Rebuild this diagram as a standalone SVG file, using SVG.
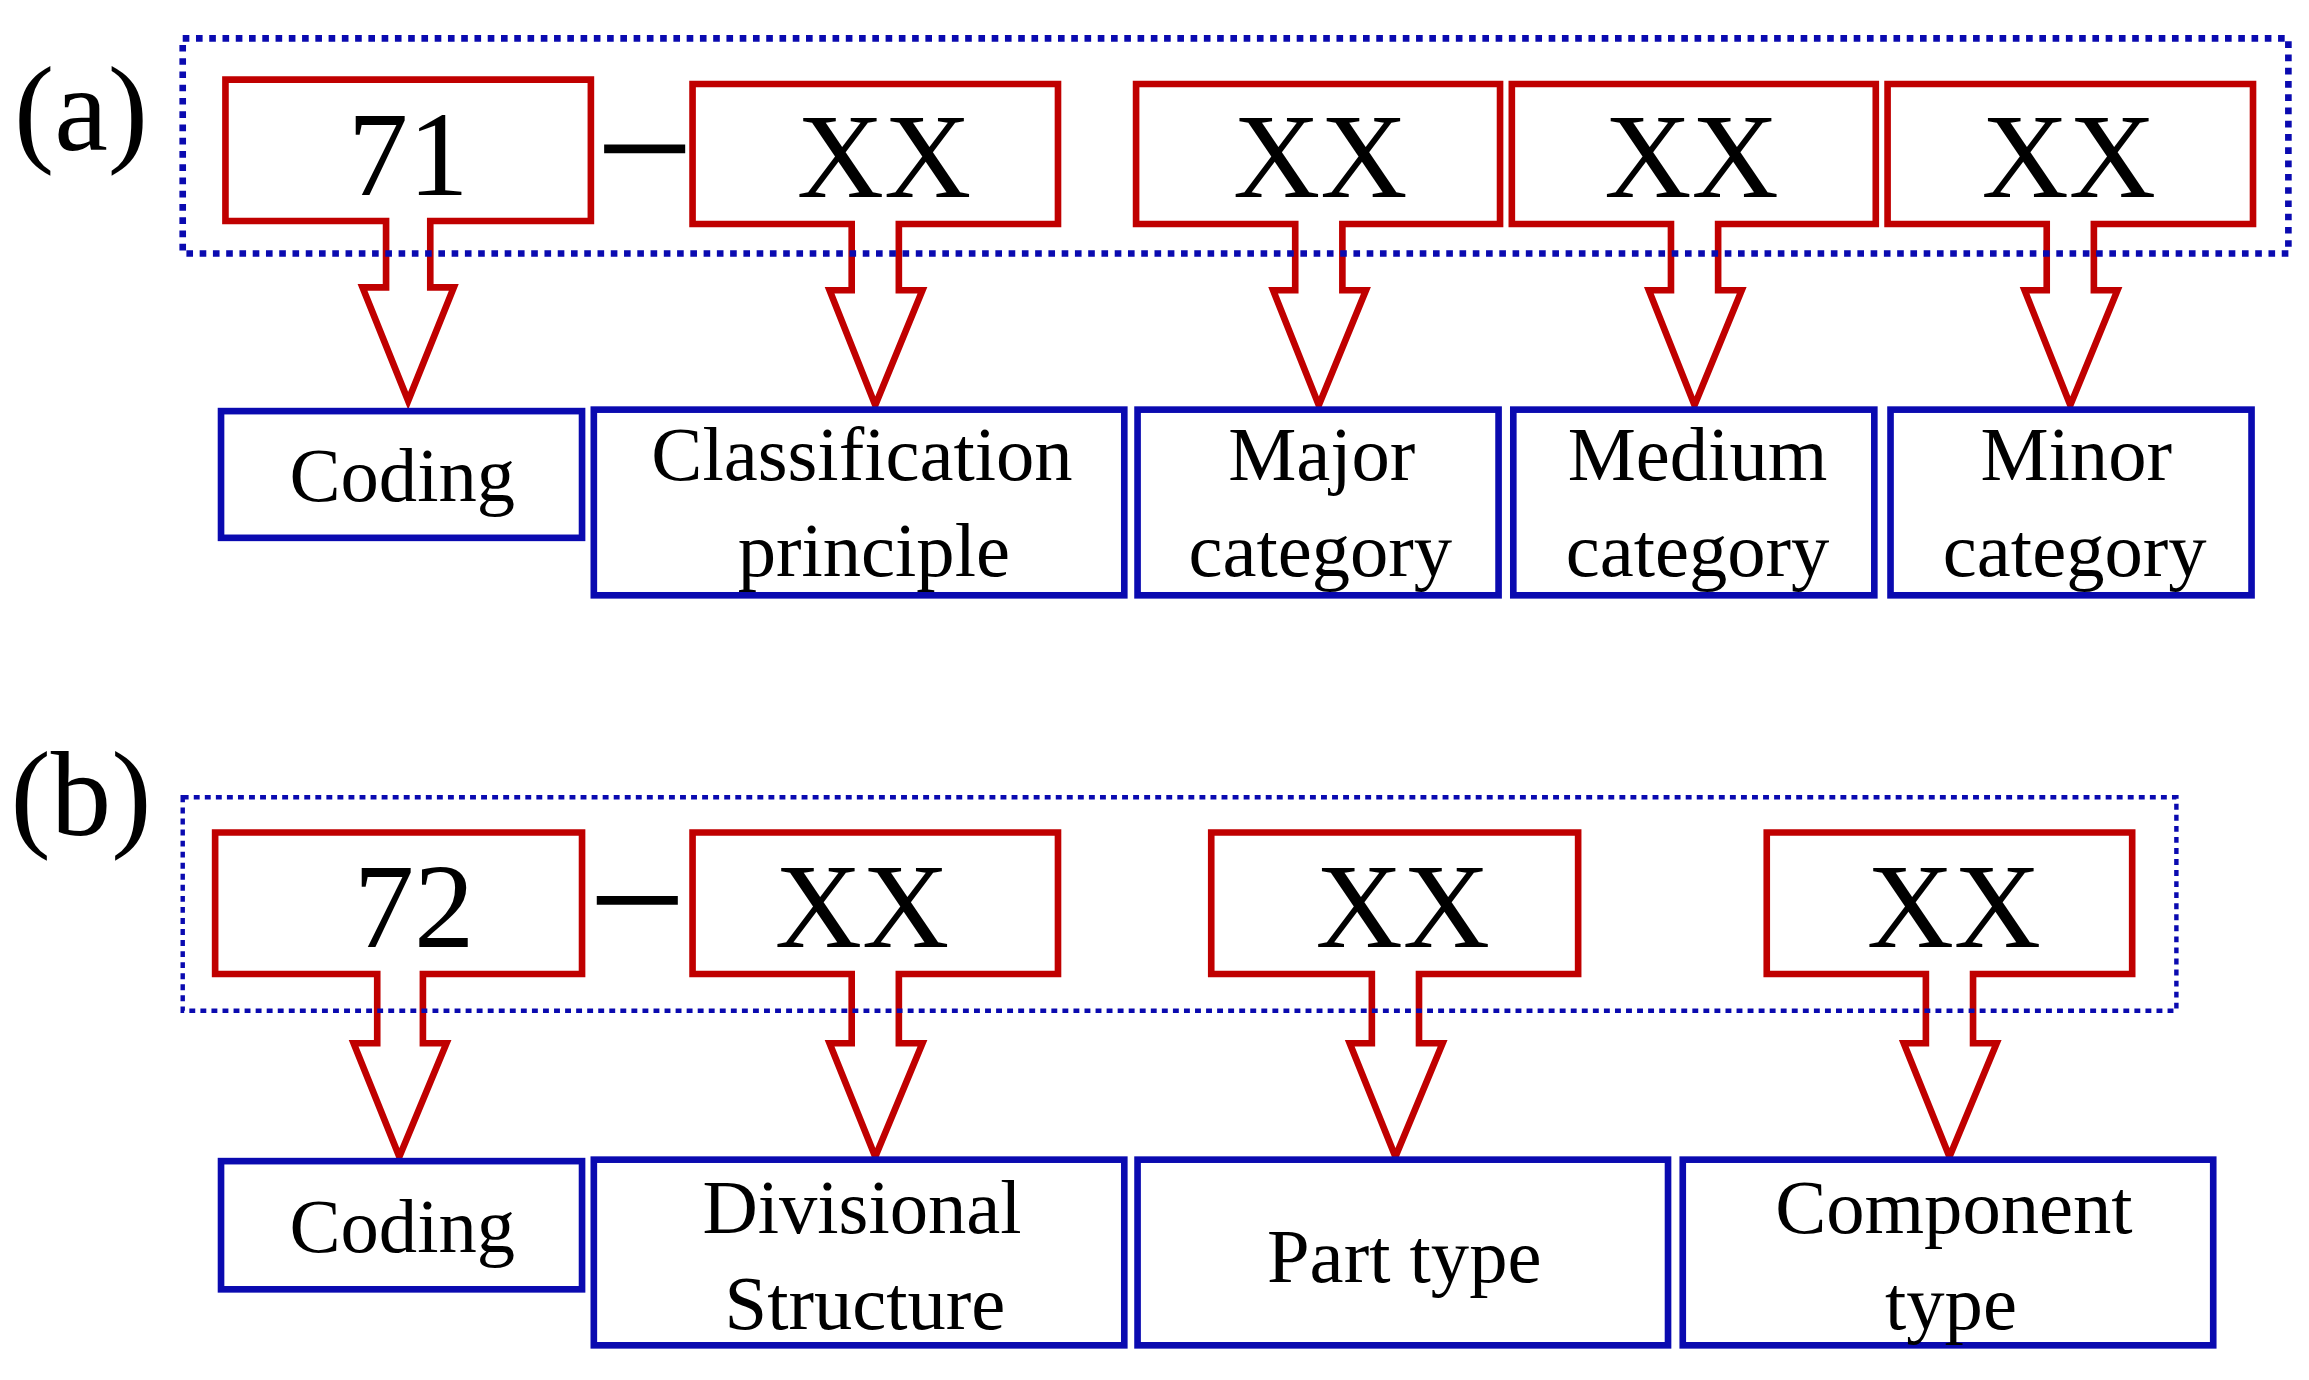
<svg xmlns="http://www.w3.org/2000/svg" width="2309" height="1380" viewBox="0 0 2309 1380">
<style>
.r{fill:none;stroke:#c00000;stroke-width:4.5;stroke-linejoin:miter}
.b{fill:#fff;stroke:#0a0ab0;stroke-width:4.5}
.d{fill:none;stroke:#0a0ab0;stroke-width:3;stroke-dasharray:4 3.5}
.d1{stroke-width:4.5;stroke-dasharray:4.5 4.5}
.t{font-family:"Liberation Serif","Times New Roman",serif;fill:#000;text-anchor:middle}
.big{font-size:82px}
.sm{font-size:52px}
.dash{stroke:#000;stroke-width:6}
</style>
<rect width="2309" height="1380" fill="#fff"/>
<g transform="scale(1.47352)">
<text class="t big" x="55" y="102">(a)</text>
<text class="t big" x="55" y="567">(b)</text>
<g id="connectors">
<line class="dash" x1="410" y1="101" x2="465" y2="101"/>
<line class="dash" x1="405" y1="611" x2="460" y2="611"/>
</g>
<g id="a71"><path class="r" d="M153,54H401V150H292V195H308L277,272L246,195H262V150H153Z"/><text class="t big" x="277" y="132">71</text></g>
<g id="aXX1"><path class="r" d="M470,57H718V152H610V197H626L594,275L563,197H578V152H470Z"/><text class="t big" x="600" y="134">XX</text></g>
<g id="aXX2"><path class="r" d="M771,57H1018V152H911V197H927L895,275L864,197H879V152H771Z"/><text class="t big" x="896" y="134">XX</text></g>
<g id="aXX3"><path class="r" d="M1026,57H1273V152H1166V197H1182L1150,275L1119,197H1134V152H1026Z"/><text class="t big" x="1148" y="134">XX</text></g>
<g id="aXX4"><path class="r" d="M1281,57H1529V152H1421V197H1437L1405,275L1374,197H1389V152H1281Z"/><text class="t big" x="1404" y="134">XX</text></g>
<g id="aCoding"><rect class="b" x="150" y="279" width="245" height="86"/><text class="t sm" x="273" y="340">Coding</text></g>
<g id="aClass"><rect class="b" x="403" y="278" width="360" height="126"/><text class="t sm" x="585" y="326">Classification</text><text class="t sm" x="593" y="391">principle</text></g>
<g id="aMajor"><rect class="b" x="772" y="278" width="245" height="126"/><text class="t sm" x="897" y="326">Major</text><text class="t sm" x="896" y="391">category</text></g>
<g id="aMedium"><rect class="b" x="1027" y="278" width="245" height="126"/><text class="t sm" x="1152" y="326">Medium</text><text class="t sm" x="1152" y="391">category</text></g>
<g id="aMinor"><rect class="b" x="1283" y="278" width="245" height="126"/><text class="t sm" x="1409" y="326">Minor</text><text class="t sm" x="1408" y="391">category</text></g>
<g id="b72"><path class="r" d="M146,565H395V661H287V708H303L271,785L240,708H256V661H146Z"/><text class="t big" x="281" y="643">72</text></g>
<g id="bXX1"><path class="r" d="M470,565H718V661H610V708H626L594,785L563,708H578V661H470Z"/><text class="t big" x="585" y="643">XX</text></g>
<g id="bXX2"><path class="r" d="M822,565H1071V661H963V708H979L947,785L916,708H931V661H822Z"/><text class="t big" x="952" y="643">XX</text></g>
<g id="bXX3"><path class="r" d="M1199,565H1447V661H1339V708H1355L1323,785L1292,708H1307V661H1199Z"/><text class="t big" x="1326" y="643">XX</text></g>
<g id="bCoding"><rect class="b" x="150" y="788" width="245" height="87"/><text class="t sm" x="273" y="850">Coding</text></g>
<g id="bDiv"><rect class="b" x="403" y="787" width="360" height="126"/><text class="t sm" x="585" y="837">Divisional</text><text class="t sm" x="587" y="902">Structure</text></g>
<g id="bPart"><rect class="b" x="772" y="787" width="360" height="126"/><text class="t sm" x="953" y="870">Part type</text></g>
<g id="bComp"><rect class="b" x="1142" y="787" width="360" height="126"/><text class="t sm" x="1326" y="837">Component</text><text class="t sm" x="1324" y="902">type</text></g>
<rect class="d d1" x="124" y="26" width="1429" height="146"/>
<rect class="d" x="124" y="541" width="1353" height="145"/>
</g>
</svg>
